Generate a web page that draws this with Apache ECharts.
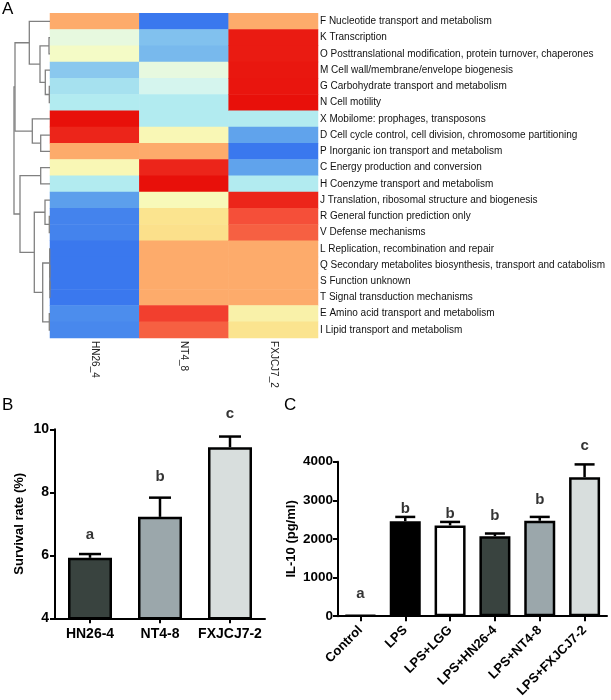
<!DOCTYPE html>
<html><head><meta charset="utf-8">
<script src="https://cdn.jsdelivr.net/npm/echarts@6/dist/echarts.min.js"></script>
<style>html,body{margin:0;padding:0;background:#fff}#c{width:611px;height:700px}</style>
</head><body><div id="c"></div>
<script>
// ---------- Panel A data ----------
const rowLabels = [
  'F Nucleotide transport and metabolism',
  'K Transcription',
  'O Posttranslational modification, protein turnover, chaperones',
  'M Cell wall/membrane/envelope biogenesis',
  'G Carbohydrate transport and metabolism',
  'N Cell motility',
  'X Mobilome: prophages, transposons',
  'D Cell cycle control, cell division, chromosome partitioning',
  'P Inorganic ion transport and metabolism',
  'C Energy production and conversion',
  'H Coenzyme transport and metabolism',
  'J Translation, ribosomal structure and biogenesis',
  'R General function prediction only',
  'V Defense mechanisms',
  'L Replication, recombination and repair',
  'Q Secondary metabolites biosynthesis, transport and catabolism',
  'S Function unknown',
  'T Signal transduction mechanisms',
  'E Amino acid transport and metabolism',
  'I Lipid transport and metabolism'
];
const colLabels = ['HN26_4', 'NT4_8', 'FXJCJ7_2'];
// row-scaled values (z-scores) per column
const zHN26 = [0.577, -0.2, -0.05, -0.72, -0.62, -0.577, 1.155, 1.05, 0.577, 0.05, -0.577, -0.9, -1.08, -1.08, -1.155, -1.155, -1.155, -1.155, -1.02, -1.05];
const zNT48 = [-1.155, -0.75, -0.78, -0.2, -0.35, -0.577, -0.577, 0.05, 0.577, 1.05, 1.155, 0.03, 0.27, 0.3, 0.577, 0.577, 0.577, 0.577, 0.92, 0.8];
const zFXJ = [0.577, 1.1, 1.1, 1.12, 1.13, 1.155, -0.577, -0.87, -1.155, -0.87, -0.577, 1.05, 0.85, 0.8, 0.577, 0.577, 0.577, 0.577, 0.12, 0.27];
// dendrogram merges: [childA, childB, height]; numbers = row index, 'nK' = merge K
const dendroMerges = [
  [1, 2, 1], [4, 5, 0.7], [3, 'n1', 4.7], ['n0', 'n2', 10], [0, 'n3', 20.7],
  [7, 8, 9.3], [6, 'n5', 17.7], ['n4', 'n6', 35],
  [9, 10, 9.3], [12, 13, 0.7], [11, 'n9', 5],
  [16, 17, 0.1], [15, 'n11', 0.2], [14, 'n12', 0.3], [18, 19, 0.7],
  ['n13', 'n14', 7.3], ['n10', 'n15', 15.7], ['n8', 'n16', 30], ['n7', 'n17', 36]
];
const dendroMax = 36;

// ---------- Panel B data ----------
const bCats = ['HN26-4', 'NT4-8', 'FXJCJ7-2'];
const bMean = [5.92, 7.22, 9.43];
const bErrTop = [6.04, 7.83, 9.77];
const bLetters = ['a', 'b', 'c'];
const bLetterY = [6.65, 8.48, 10.49];
const bTicks = [4, 10, 2];

// ---------- Panel C data ----------
const cCats = ['Control', 'LPS', 'LPS+LGG', 'LPS+HN26-4', 'LPS+NT4-8', 'LPS+FXJCJ7-2'];
const cMean = [20, 2460, 2350, 2070, 2470, 3600];
const cErrTop = [20, 2570, 2440, 2140, 2570, 3930];
const cLetters = ['a', 'b', 'b', 'b', 'b', 'c'];
const cLetterY = [575, 2776, 2657, 2601, 3000, 4410];
const cTicks = [0, 4000, 1000];

// ---------- styles ----------
const heatColors = ['#3a78ee', '#60a4ec', '#b2ebf0', '#dff8ee', '#f8fcbe', '#fbe28c', '#fdab6b', '#f44a36', '#e8100a'];
const bColors = ['#39433f', '#9ba7ab', '#d8dedd'];
const cColors = ['#ffffff', '#000000', '#ffffff', '#39433f', '#9ba7ab', '#d8dedd'];
const FONT = '"Liberation Sans", Arial, Helvetica, sans-serif';

// ---------- build ----------
const heatData = [];
[zHN26, zNT48, zFXJ].forEach((col, ci) => col.forEach((v, ri) => heatData.push([ci, ri, v])));

const nodeH = [], nodeY = [];
function pos(c) {
  if (typeof c === 'number') return [0, c];
  const k = +c.slice(1);
  return [nodeH[k], nodeY[k]];
}
const dendroLines = dendroMerges.map(([a, b, h], k) => {
  const pa = pos(a), pb = pos(b);
  nodeH[k] = h; nodeY[k] = (pa[1] + pb[1]) / 2;
  return { coords: [[pa[0], pa[1]], [h, pa[1]], [h, pb[1]], [pb[0], pb[1]]] };
});

function errRender(capW, lw) {
  return function (params, api) {
    const x = api.value(0), m = api.value(1), t = api.value(2);
    const p0 = api.coord([x, m]), p1 = api.coord([x, t]);
    if (Math.abs(p1[1] - p0[1]) < 0.5) return null;
    return { type: 'group', children: [
      { type: 'line', shape: { x1: p0[0], y1: p0[1], x2: p1[0], y2: p1[1] }, style: { stroke: '#000', lineWidth: lw } },
      { type: 'line', shape: { x1: p1[0] - capW / 2, y1: p1[1], x2: p1[0] + capW / 2, y2: p1[1] }, style: { stroke: '#000', lineWidth: lw } }
    ] };
  };
}

const axisLineStyle = { show: true, lineStyle: { color: '#000', width: 2 } };
const axisTickStyle = { show: true, length: 5, lineStyle: { color: '#000', width: 2 } };
const boldLabel = { color: '#000', fontWeight: 'bold', fontFamily: FONT };

const chart = echarts.init(document.getElementById('c'), null, { renderer: 'canvas' });
chart.setOption({
  backgroundColor: '#fff',
  animation: false,
  textStyle: { fontFamily: FONT },
  graphic: [
    { type: 'text', left: 2, top: 1, style: { text: 'A', fontSize: 17, fontFamily: FONT, fill: '#000' } },
    { type: 'text', left: 2, top: 397, style: { text: 'B', fontSize: 17, fontFamily: FONT, fill: '#000' } },
    { type: 'text', left: 284, top: 397, style: { text: 'C', fontSize: 17, fontFamily: FONT, fill: '#000' } }
  ],
  grid: [
    { left: 50, top: 13.3, width: 268, height: 324.8 },
    { left: 14, top: 13.3, width: 36, height: 324.8 },
    { left: 55, top: 429.3, width: 210, height: 189 },
    { left: 338, top: 461.7, width: 269, height: 157.3 }
  ],
  visualMap: {
    show: false, seriesIndex: 0, min: -1.155, max: 1.155, dimension: 2,
    inRange: { color: heatColors }
  },
  xAxis: [
    { type: 'category', gridIndex: 0, data: colLabels, position: 'bottom',
      axisLine: { show: false }, axisTick: { show: false }, splitLine: { show: false },
      axisLabel: { rotate: -90, margin: 3, fontSize: 10, color: '#222', fontFamily: FONT } },
    { type: 'value', gridIndex: 1, min: 0, max: dendroMax, inverse: true, show: false },
    { type: 'category', gridIndex: 2, data: bCats, axisLine: axisLineStyle,
      axisTick: Object.assign({ alignWithLabel: true }, axisTickStyle),
      axisLabel: Object.assign({ fontSize: 14, margin: 9, interval: 0 }, boldLabel) },
    { type: 'category', gridIndex: 3, data: cCats, axisLine: axisLineStyle,
      axisTick: Object.assign({ alignWithLabel: true }, axisTickStyle),
      axisLabel: Object.assign({ fontSize: 13, margin: 12, rotate: 45, interval: 0 }, boldLabel) }
  ],
  yAxis: [
    { type: 'category', gridIndex: 0, data: rowLabels, inverse: true, position: 'right',
      axisLine: { show: false }, axisTick: { show: false }, splitLine: { show: false },
      axisLabel: { margin: 2, fontSize: 10, color: '#111', fontFamily: FONT } },
    { type: 'value', gridIndex: 1, min: -0.5, max: rowLabels.length - 0.5, inverse: true, show: false },
    { type: 'value', gridIndex: 2, min: bTicks[0], max: bTicks[1], interval: bTicks[2],
      axisLine: axisLineStyle, axisTick: axisTickStyle, splitLine: { show: false },
      axisLabel: Object.assign({ fontSize: 14, margin: 6 }, boldLabel),
      name: 'Survival rate (%)', nameLocation: 'middle', nameGap: 29,
      nameTextStyle: { fontSize: 13, fontWeight: 'bold', color: '#000', fontFamily: FONT } },
    { type: 'value', gridIndex: 3, min: cTicks[0], max: cTicks[1], interval: cTicks[2],
      axisLine: axisLineStyle, axisTick: axisTickStyle, splitLine: { show: false },
      axisLabel: Object.assign({ fontSize: 13.5, margin: 5, formatter: v => String(v) }, boldLabel),
      name: 'IL-10 (pg/ml)', nameLocation: 'middle', nameGap: 40,
      nameTextStyle: { fontSize: 13, fontWeight: 'bold', color: '#000', fontFamily: FONT } }
  ],
  series: [
    { type: 'heatmap', xAxisIndex: 0, yAxisIndex: 0, data: heatData,
      itemStyle: { borderWidth: 0 }, emphasis: { disabled: true } },
    { type: 'lines', coordinateSystem: 'cartesian2d', xAxisIndex: 1, yAxisIndex: 1, polyline: true,
      data: dendroLines, silent: true,
      lineStyle: { color: '#808080', width: 1.3, opacity: 1 } },
    { type: 'bar', xAxisIndex: 2, yAxisIndex: 2, barWidth: 44, clip: true,
      data: bMean.map((v, i) => ({ value: v, itemStyle: { color: bColors[i] } })),
      itemStyle: { borderColor: '#000', borderWidth: 2.5 } },
    { type: 'custom', xAxisIndex: 2, yAxisIndex: 2, renderItem: errRender(22, 2.5),
      data: bMean.map((v, i) => [i, v, bErrTop[i]]), z: 1 },
    { type: 'scatter', xAxisIndex: 2, yAxisIndex: 2, symbolSize: 0, clip: false,
      data: bLetterY.map((v, i) => [i, v]),
      label: { show: true, position: 'inside', formatter: p => bLetters[p.dataIndex],
        fontSize: 15, fontWeight: 'bold', color: '#000', fontFamily: FONT } },
    { type: 'bar', xAxisIndex: 3, yAxisIndex: 3, barWidth: 31, clip: true,
      data: cMean.map((v, i) => ({ value: v, itemStyle: { color: cColors[i] } })),
      itemStyle: { borderColor: '#000', borderWidth: 2.5 } },
    { type: 'custom', xAxisIndex: 3, yAxisIndex: 3, renderItem: errRender(20, 2.5),
      data: cMean.map((v, i) => [i, v, cErrTop[i]]), z: 1 },
    { type: 'scatter', xAxisIndex: 3, yAxisIndex: 3, symbolSize: 0, clip: false,
      data: cLetterY.map((v, i) => [i, v]),
      label: { show: true, position: 'inside', formatter: p => cLetters[p.dataIndex],
        fontSize: 15, fontWeight: 'bold', color: '#000', fontFamily: FONT } }
  ]
});
</script>
</body></html>
